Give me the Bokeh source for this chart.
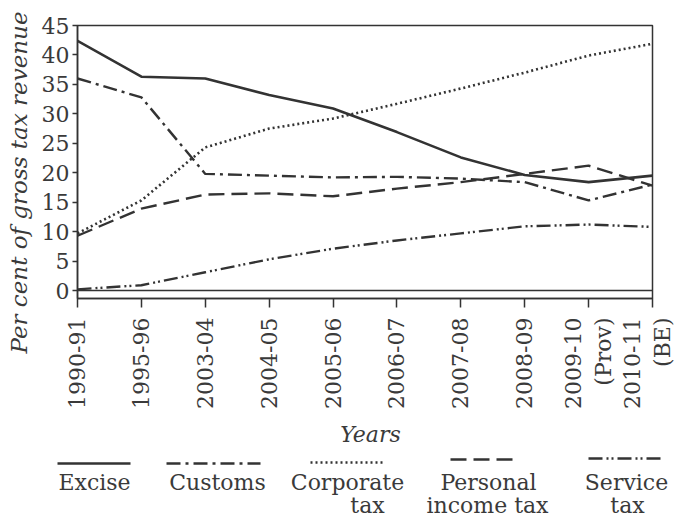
import math
from bokeh.plotting import figure
from bokeh.layouts import column, row
from bokeh.models import Range1d, FixedTicker, Span
from bokeh.core.properties import value
from bokeh.embed import file_html
from bokeh.resources import INLINE

# ---- data ----
years = ["1990-91", "1995-96", "2003-04", "2004-05", "2005-06", "2006-07",
         "2007-08", "2008-09", "2009-10\n(Prov)", "2010-11\n(BE)"]
excise = [42.4, 36.3, 36.0, 33.2, 30.9, 26.9, 22.6, 19.6, 18.4, 19.5]
customs = [36.0, 32.8, 19.8, 19.5, 19.2, 19.3, 19.0, 18.4, 15.3, 18.0]
corporate = [9.7, 15.3, 24.3, 27.5, 29.2, 31.7, 34.3, 37.0, 39.9, 41.9]
personal = [9.3, 13.9, 16.3, 16.5, 16.0, 17.3, 18.4, 19.8, 21.2, 17.8]
service = [0.2, 0.9, 3.1, 5.3, 7.1, 8.5, 9.7, 10.9, 11.2, 10.8]
y_ticks = [0, 5, 10, 15, 20, 25, 30, 35, 40, 45]
series_names = [["Excise"], ["Customs"], ["Corporate", "tax"],
                ["Personal", "income tax"], ["Service", "tax"]]
y_title = "Per cent of gross tax revenue"
x_title = "Years"

INK = "#333333"
TXT = "#3a3a3a"
FONT = "DejaVu Serif"

styles = [
    dict(line_dash="solid", line_width=2.6),
    dict(line_dash="14 5 3 5", line_width=2.4),
    dict(line_dash="2 3", line_width=2.6),
    dict(line_dash="16 7", line_width=2.4),
    dict(line_dash="14 4 2 3 2 4", line_width=2.4),
]
series = [excise, customs, corporate, personal, service]
xs = list(range(len(years)))

# ---- y-axis title strip ----
t = figure(width=38, height=420, x_range=Range1d(0, 38), y_range=Range1d(420, 0),
           output_backend="svg", toolbar_location=None, x_axis_type=None,
           y_axis_type=None, min_border=0)
t.grid.visible = False
t.outline_line_color = None
t.frame_align = False
t.text(x=[18], y=[182], text=[y_title], angle=math.pi / 2, text_align="center",
       text_baseline="middle", text_font=value(FONT), text_font_style="italic",
       text_font_size="23px", text_color=TXT)

# ---- main chart ----
p = figure(width=636, height=420, x_range=Range1d(0, len(years) - 1),
           y_range=Range1d(-1.358, 45), output_backend="svg",
           toolbar_location=None, min_border_left=32, min_border_right=22,
           min_border_top=25, min_border_bottom=122)
p.frame_align = False
p.grid.visible = False
p.outline_line_color = INK
p.outline_line_width = 1.5

for vals, st in zip(series, styles):
    p.line(xs, vals, line_color=INK, line_cap="butt", **st)

p.add_layout(Span(location=0, dimension="width", line_color=INK, line_width=1.5))

p.xaxis.ticker = FixedTicker(ticks=xs)
p.xaxis.major_label_overrides = {i: lbl for i, lbl in enumerate(years)}
p.xaxis.major_label_orientation = math.pi / 2
p.xaxis.major_tick_out = 9
p.xaxis.major_tick_in = 0
p.xaxis.minor_tick_line_color = None
p.xaxis.major_label_standoff = 10

p.yaxis.ticker = FixedTicker(ticks=y_ticks)
p.yaxis.major_tick_out = 5
p.yaxis.major_tick_in = 0
p.yaxis.minor_tick_line_color = None
p.yaxis.major_label_standoff = 3

for ax in (p.xaxis, p.yaxis):
    ax.axis_line_color = INK
    ax.axis_line_width = 1.5
    ax.major_tick_line_color = INK
    ax.major_tick_line_width = 1.5
    ax.major_label_text_font = FONT
    ax.major_label_text_font_size = "22px"
    ax.major_label_text_color = TXT

# ---- legend strip below (coordinates = page pixels) ----
q = figure(width=674, height=98, x_range=Range1d(0, 674), y_range=Range1d(518, 420),
           output_backend="svg", toolbar_location=None, x_axis_type=None,
           y_axis_type=None, min_border=0)
q.frame_align = False
q.grid.visible = False
q.outline_line_color = None

q.text(x=[370], y=[434], text=[x_title], text_align="center",
       text_baseline="middle", text_font=value(FONT),
       text_font_style="italic", text_font_size="22px", text_color=TXT)

sample_x = [(57, 130), (166, 260), (310, 383), (450, 518), (588, 663)]
sample_y = [463, 463, 462, 459, 458]
label_x = [[94], [217], [347, 367], [488, 487], [626, 627]]
for (x0, x1), sy, lx, names, st in zip(sample_x, sample_y, label_x, series_names, styles):
    q.line([x0, x1], [sy, sy], line_color=INK, line_cap="butt", **st)
    q.text(x=lx, y=[482, 505][:len(names)], text=names,
           text_align="center", text_baseline="middle",
           text_font=value(FONT), text_font_size="22px", text_color=TXT)

layout = column(row(t, p, spacing=0), q, spacing=0)
open("out.html", "w").write(file_html(layout, INLINE))
